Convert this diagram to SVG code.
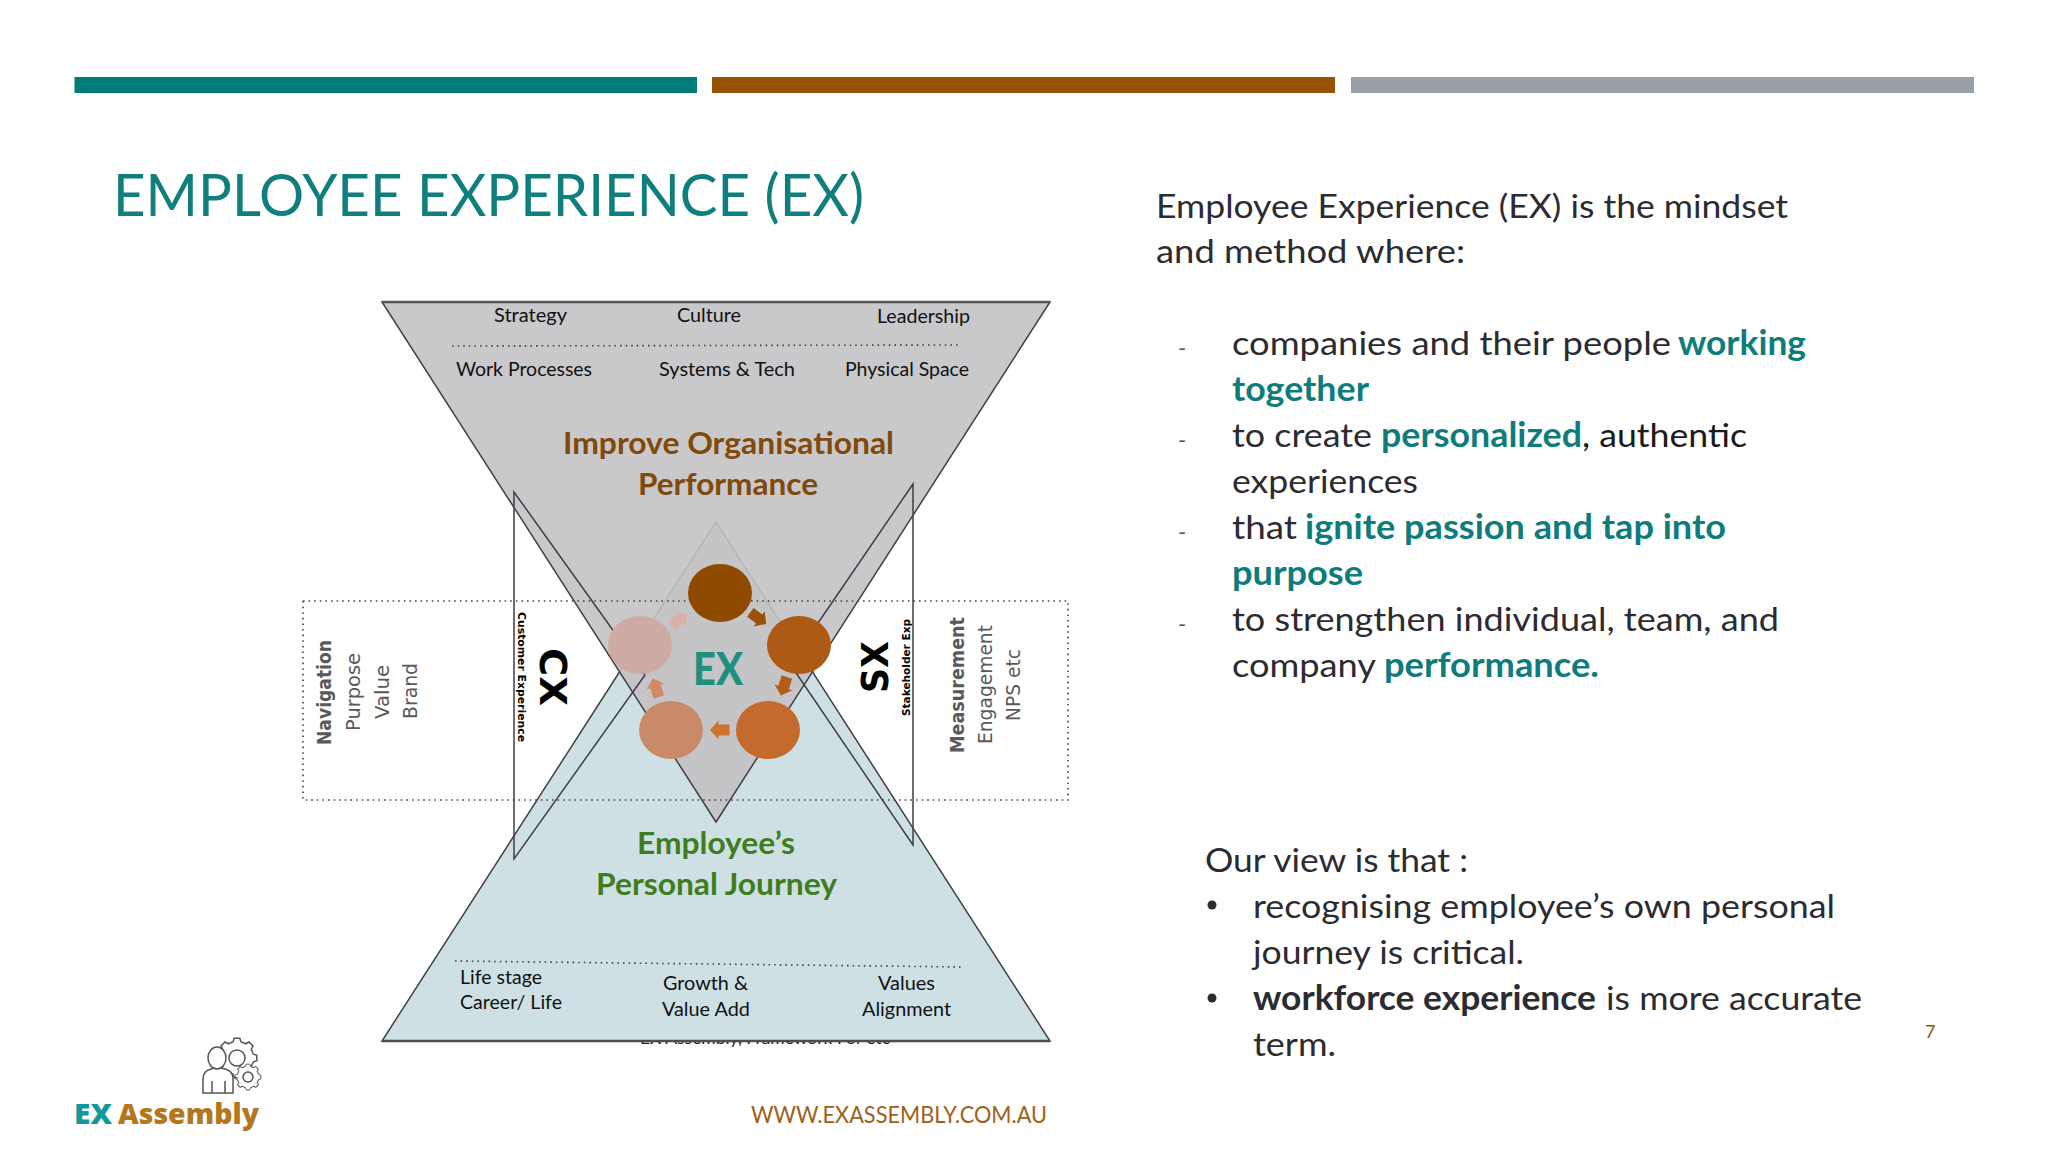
<svg xmlns="http://www.w3.org/2000/svg" xmlns:xlink="http://www.w3.org/1999/xlink" width="2048" height="1152" viewBox="0 0 2048 1152">
<style>
text{font-family:Lato,"Liberation Sans",sans-serif}
.body{font-size:33.5px;fill:#2b2b30}
.tb{font-size:33.5px;font-weight:700;fill:#0e7c7b}
.dash{font-size:22px;fill:#555}
.k{font-size:18.5px;fill:#111}
.h1{font-size:31px;font-weight:700;fill:#7f4a0c}
.h2{font-size:31px;font-weight:700;fill:#3f7d20}
.v{font-family:"DejaVu Sans",sans-serif;font-size:20px;fill:#595959}
.vb{font-family:"DejaVu Sans",sans-serif;font-weight:700;fill:#000}
.tri{stroke:#3f3f44;stroke-width:1.5;stroke-linejoin:miter}
.side{fill:none;stroke:#3f3f44;stroke-width:1.5}
.dot{fill:none;stroke:#444;stroke-width:1.6;stroke-dasharray:1.6 4}
.icon{fill:none;stroke:#555;stroke-width:1.5}
</style>
<defs>
<polygon id="arr" points="-9.5,-5.5 1.5,-5.5 1.5,-9.5 10,0 1.5,9.5 1.5,5.5 -9.5,5.5"/>
<g id="gear">
<circle r="16" fill="#fff"/>
<g class="icon">
<polyline id="tooth" points="15.3,-6.4 16.1,-4 19.8,-2.8 19.8,2.8 16.1,4 15.3,6.4"/>
<use xlink:href="#tooth" href="#tooth" transform="rotate(45)"/>
<use xlink:href="#tooth" href="#tooth" transform="rotate(90)"/>
<use xlink:href="#tooth" href="#tooth" transform="rotate(135)"/>
<use xlink:href="#tooth" href="#tooth" transform="rotate(180)"/>
<use xlink:href="#tooth" href="#tooth" transform="rotate(225)"/>
<use xlink:href="#tooth" href="#tooth" transform="rotate(270)"/>
<use xlink:href="#tooth" href="#tooth" transform="rotate(315)"/>
</g>
</g>
</defs>
<rect width="2048" height="1152" fill="#fff"/>

<g id="header-bars">
<rect x="74.5" y="77" width="622.5" height="16" fill="#007c7a"/>
<rect x="712" y="77" width="623" height="16" fill="#985204"/>
<rect x="1351" y="77" width="623" height="16" fill="#95a1a6"/>
</g>
<text id="title" x="113" y="216" font-size="59" fill="#0e7f7d" textLength="751" lengthAdjust="spacingAndGlyphs">EMPLOYEE EXPERIENCE (EX)</text>

<g id="right-text">
<text class="body" x="1156" y="218" textLength="632" lengthAdjust="spacingAndGlyphs">Employee Experience (EX) is the mindset</text>
<text class="body" x="1156" y="263" textLength="309" lengthAdjust="spacingAndGlyphs">and method where:</text>
<text class="dash" x="1178" y="356">-</text>
<text class="body" x="1232" y="355" textLength="439" lengthAdjust="spacingAndGlyphs">companies and their people</text>
<text class="tb" x="1678" y="355" textLength="128" lengthAdjust="spacingAndGlyphs">working</text>
<text class="tb" x="1232" y="401" textLength="137" lengthAdjust="spacingAndGlyphs">together</text>
<text class="dash" x="1178" y="448">-</text>
<text class="body" x="1232" y="447" textLength="140" lengthAdjust="spacingAndGlyphs">to create</text>
<text class="tb" x="1381" y="447" textLength="201" lengthAdjust="spacingAndGlyphs">personalized</text>
<text class="body" x="1582" y="447" textLength="165" lengthAdjust="spacingAndGlyphs" style="fill:#1a1a1a">, authentic</text>
<text class="body" x="1232" y="493" textLength="186" lengthAdjust="spacingAndGlyphs">experiences</text>
<text class="dash" x="1178" y="540">-</text>
<text class="body" x="1232" y="539" textLength="65" lengthAdjust="spacingAndGlyphs">that</text>
<text class="tb" x="1305" y="539" textLength="421" lengthAdjust="spacingAndGlyphs">ignite passion and tap into</text>
<text class="tb" x="1232" y="585" textLength="131" lengthAdjust="spacingAndGlyphs">purpose</text>
<text class="dash" x="1178" y="632">-</text>
<text class="body" x="1232" y="631" textLength="547" lengthAdjust="spacingAndGlyphs">to strengthen individual, team, and</text>
<text class="body" x="1232" y="677" textLength="144" lengthAdjust="spacingAndGlyphs">company</text>
<text class="tb" x="1384" y="677" textLength="215" lengthAdjust="spacingAndGlyphs">performance.</text>
<text class="body" x="1205" y="872" textLength="263" lengthAdjust="spacingAndGlyphs">Our view is that :</text>
<circle cx="1212" cy="905" r="4.5" fill="#2b2b30"/>
<text class="body" x="1253" y="918" textLength="582" lengthAdjust="spacingAndGlyphs">recognising employee’s own personal</text>
<text class="body" x="1253" y="964" textLength="271" lengthAdjust="spacingAndGlyphs">journey is critical.</text>
<circle cx="1212" cy="998" r="4.5" fill="#2b2b30"/>
<text class="body" x="1253" y="1010" textLength="343" lengthAdjust="spacingAndGlyphs" style="font-weight:700">workforce experience</text>
<text class="body" x="1606" y="1010" textLength="256" lengthAdjust="spacingAndGlyphs">is more accurate</text>
<text class="body" x="1253" y="1056" textLength="83" lengthAdjust="spacingAndGlyphs">term.</text>
<text x="1925" y="1038" font-size="18" fill="#985204">7</text>
</g>

<text id="clipped-note" x="640" y="1044" font-size="18" fill="#222" textLength="250" lengthAdjust="spacingAndGlyphs">EX Assembly, Framework For etc</text>

<g id="journey-triangle"><polygon class="tri" points="716,522 1050,1041 382,1041" fill="#cfe0e5"/>
<line x1="382" y1="1041" x2="1050" y2="1041" stroke="#4a4f52" stroke-width="2.5"/></g>
<g id="org-triangle"><polygon class="tri" points="382,302 1050,302 716,822" fill="#c3c2c4" fill-opacity=".9"/>
<line x1="382" y1="302" x2="1050" y2="302" stroke="#55555a" stroke-width="2.5"/></g>

<g id="connectors">
<rect class="dot" x="303" y="601" width="765" height="199"/>
<polyline class="side" points="645,675 514,492 514,859 645,675"/>
<polyline class="side" points="790,664 913,484 913,845 790,664"/>
<line class="dot" x1="452" y1="346" x2="960" y2="345"/>
<line class="dot" x1="455" y1="961" x2="962" y2="967"/>
</g>

<g id="org-labels">
<text class="k" x="494" y="322" textLength="73" lengthAdjust="spacingAndGlyphs">Strategy</text>
<text class="k" x="677" y="322" textLength="64" lengthAdjust="spacingAndGlyphs">Culture</text>
<text class="k" x="877" y="323" textLength="93" lengthAdjust="spacingAndGlyphs">Leadership</text>
<text class="k" x="456" y="376" textLength="136" lengthAdjust="spacingAndGlyphs">Work Processes</text>
<text class="k" x="659" y="376" textLength="136" lengthAdjust="spacingAndGlyphs">Systems &amp; Tech</text>
<text class="k" x="845" y="376" textLength="124" lengthAdjust="spacingAndGlyphs">Physical Space</text>
<text class="h1" x="563" y="454" textLength="331" lengthAdjust="spacingAndGlyphs">Improve Organisational</text>
<text class="h1" x="638" y="495" textLength="180" lengthAdjust="spacingAndGlyphs">Performance</text>
</g>

<g id="journey-labels">
<text class="h2" x="637" y="854" textLength="158" lengthAdjust="spacingAndGlyphs">Employee’s</text>
<text class="h2" x="596" y="895" textLength="241" lengthAdjust="spacingAndGlyphs">Personal Journey</text>
<text class="k" x="460" y="984" textLength="82" lengthAdjust="spacingAndGlyphs">Life stage</text>
<text class="k" x="460" y="1009" textLength="102" lengthAdjust="spacingAndGlyphs">Career/ Life</text>
<text class="k" x="663" y="990" textLength="85" lengthAdjust="spacingAndGlyphs">Growth &amp;</text>
<text class="k" x="662" y="1016" textLength="88" lengthAdjust="spacingAndGlyphs">Value Add</text>
<text class="k" x="878" y="990" textLength="57" lengthAdjust="spacingAndGlyphs">Values</text>
<text class="k" x="862" y="1016" textLength="89" lengthAdjust="spacingAndGlyphs">Alignment</text>
</g>

<g id="navigation">
<text class="v" style="font-weight:700" transform="translate(331 745) rotate(-90)" textLength="105" lengthAdjust="spacingAndGlyphs">Navigation</text>
<text class="v" transform="translate(360 731) rotate(-90)" textLength="78" lengthAdjust="spacingAndGlyphs">Purpose</text>
<text class="v" transform="translate(389 719) rotate(-90)" textLength="54" lengthAdjust="spacingAndGlyphs">Value</text>
<text class="v" transform="translate(417 719) rotate(-90)" textLength="56" lengthAdjust="spacingAndGlyphs">Brand</text>
</g>
<g id="measurement">
<text class="v" style="font-weight:700" transform="translate(964 753) rotate(-90)" textLength="136" lengthAdjust="spacingAndGlyphs">Measurement</text>
<text class="v" transform="translate(992 744) rotate(-90)" textLength="119" lengthAdjust="spacingAndGlyphs">Engagement</text>
<text class="v" transform="translate(1020 721) rotate(-90)" textLength="72" lengthAdjust="spacingAndGlyphs">NPS etc</text>
</g>
<g id="cx">
<text class="vb" font-size="10.5" transform="translate(518 612) rotate(90)" textLength="130" lengthAdjust="spacingAndGlyphs">Customer Experience</text>
<text class="vb" font-size="38" transform="translate(540 648) rotate(90)" textLength="58" lengthAdjust="spacingAndGlyphs">CX</text>
</g>
<g id="sx">
<text class="vb" font-size="38" transform="translate(888 693) rotate(-90)" textLength="52" lengthAdjust="spacingAndGlyphs">SX</text>
<text class="vb" font-size="10.5" transform="translate(910 716) rotate(-90)" textLength="97" lengthAdjust="spacingAndGlyphs">Stakeholder Exp</text>
</g>

<g id="ex-cycle">
<text x="693" y="685" font-size="45" font-weight="900" fill="#1f9080" textLength="50" lengthAdjust="spacingAndGlyphs">EX</text>
<g id="cycle-1"><ellipse cx="720" cy="593" rx="32" ry="29" fill="#8e4b00"/><use xlink:href="#arr" href="#arr" transform="translate(758 618) rotate(36)" fill="#9a5208"/></g>
<g id="cycle-2"><ellipse cx="799" cy="645" rx="32" ry="29" fill="#ad5a14"/><use xlink:href="#arr" href="#arr" transform="translate(784 686) rotate(108)" fill="#b35e16"/></g>
<g id="cycle-3"><ellipse cx="768" cy="730" rx="32" ry="29" fill="#c36a2c"/><use xlink:href="#arr" href="#arr" transform="translate(720 730) rotate(180)" fill="#cd7232"/></g>
<g id="cycle-4"><ellipse cx="671" cy="730" rx="32" ry="29" fill="#c98a6a"/><use xlink:href="#arr" href="#arr" transform="translate(656 688) rotate(252)" fill="#d28a62"/></g>
<g id="cycle-5"><ellipse cx="640" cy="645" rx="32" ry="29" fill="#cdaaa2"/><use xlink:href="#arr" href="#arr" transform="translate(679 620) rotate(-36)" fill="#dbb0a8"/></g>
</g>

<g id="logo">
<use xlink:href="#gear" href="#gear" transform="translate(237 1058)"/>
<circle class="icon" cx="237" cy="1058" r="8"/>
<use xlink:href="#gear" href="#gear" transform="translate(248 1077) scale(.65)"/>
<circle class="icon" cx="248" cy="1077" r="5"/>
<path class="icon" style="fill:#fff" d="M203 1093V1079Q203 1071 211 1069L217 1067L225 1069Q233 1071 233 1079V1093Z"/>
<path class="icon" d="M212 1081V1093M225 1081V1093"/>
<ellipse class="icon" style="fill:#fff" cx="217" cy="1058" rx="9" ry="11"/>
<text x="74" y="1124" font-size="29" font-weight="800" fill="#12989c" style="font-family:'Open Sans',sans-serif" textLength="38" lengthAdjust="spacingAndGlyphs">EX</text>
<text x="118" y="1124" font-size="29" font-weight="800" fill="#b5771d" style="font-family:'Open Sans',sans-serif" textLength="141" lengthAdjust="spacingAndGlyphs">Assembly</text>
</g>
<text id="footer-url" x="751" y="1123" font-size="24" fill="#a0601a" textLength="296" lengthAdjust="spacingAndGlyphs">WWW.EXASSEMBLY.COM.AU</text>
</svg>
